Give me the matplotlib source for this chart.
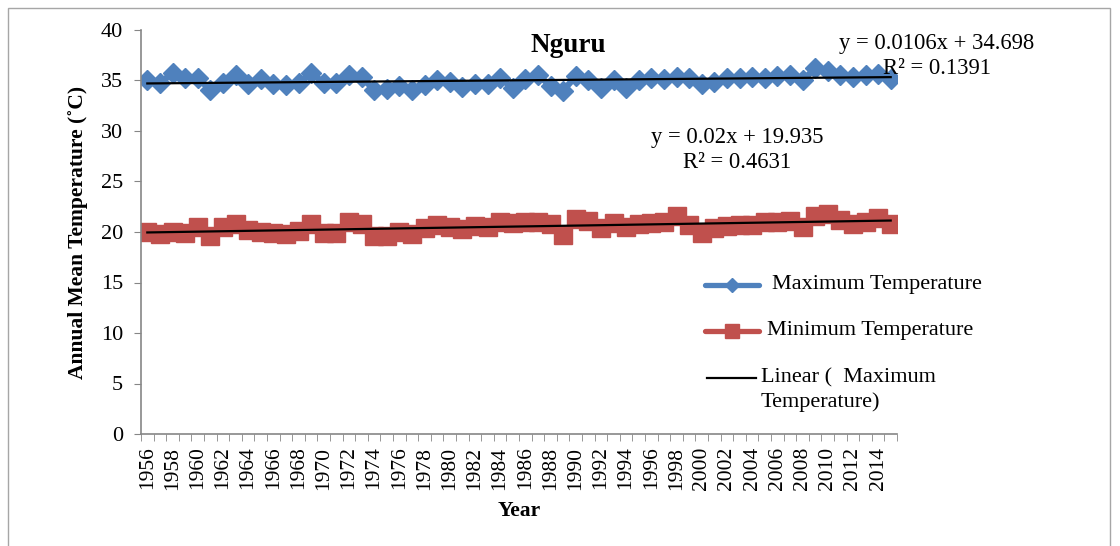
import numpy as np
import matplotlib
matplotlib.use('Agg')
import matplotlib.pyplot as plt
from matplotlib.lines import Line2D
from matplotlib.patches import Rectangle

plt.rcParams['font.family'] = ['Liberation Serif', 'DejaVu Serif']

years = list(range(1956, 2016))
max_temp = [35.0, 34.8, 35.7, 35.2, 35.2, 34.1, 34.8, 35.5, 34.7, 35.1,
            34.7, 34.6, 34.8, 35.7, 34.8, 34.8, 35.5, 35.3, 34.1, 34.2,
            34.5, 34.1, 34.6, 35.0, 34.9, 34.4, 34.7, 34.7, 35.2, 34.3,
            35.1, 35.5, 34.5, 34.0, 35.4, 35.0, 34.3, 35.0, 34.3, 35.0,
            35.2, 35.1, 35.3, 35.2, 34.7, 34.9, 35.2, 35.2, 35.3, 35.2,
            35.4, 35.5, 35.0, 36.2, 35.9, 35.5, 35.3, 35.5, 35.6, 35.1]
min_temp = [20.0, 19.8, 20.0, 19.9, 20.5, 19.6, 20.5, 20.8, 20.2, 20.0,
            19.9, 19.8, 20.1, 20.8, 19.9, 19.9, 21.0, 20.8, 19.6, 19.6,
            20.0, 19.8, 20.4, 20.7, 20.5, 20.3, 20.6, 20.5, 21.0, 20.9,
            21.0, 21.0, 20.8, 19.7, 21.3, 21.1, 20.4, 20.9, 20.5, 20.8,
            20.9, 21.0, 21.6, 20.7, 19.9, 20.4, 20.6, 20.7, 20.7, 21.0,
            21.0, 21.1, 20.5, 21.6, 21.8, 21.2, 20.8, 21.0, 21.4, 20.8]
# Excel trendline coefficients (x = 1..60)
max_fit = (0.0106, 34.698)
min_fit = (0.02, 19.935)

W, H = 1120, 546
fig = plt.figure(figsize=(W / 100, H / 100), dpi=100)
fig.patches.append(Rectangle((8 / W, -0.05), 1102 / W, 1 - 8 / H + 0.05,
                             transform=fig.transFigure, fill=False,
                             edgecolor='#a6a6a6', lw=1))

ax = fig.add_axes([141 / W, 1 - 434 / H, 756 / W, 404 / H])
x = np.arange(len(years))
blue, red = '#4f81bd', '#c0504d'
ax.plot(x, max_temp, color=blue, lw=4.5, marker='D', ms=10, zorder=2)
ax.plot(x, min_temp, color=red, lw=4.5, marker='s', ms=13, zorder=2)
k = np.arange(1, len(years) + 1)
ax.plot(x, max_fit[0] * k + max_fit[1], color='black', lw=1.6, zorder=3)
ax.plot(x, min_fit[0] * k + min_fit[1], color='black', lw=1.6, zorder=3)

ax.set_xlim(-0.5, len(years) - 0.5)
ax.set_ylim(0, 40)
ax.set_yticks(range(0, 41, 5))
ax.set_xticks(x[::2])
ax.set_xticklabels([str(y) for y in years[::2]], rotation=90)
ax.set_xticks(np.arange(-0.5, len(years)), minor=True)
ax.tick_params(axis='x', which='major', length=0, pad=9, labelsize=15.5)
ax.tick_params(axis='x', which='minor', length=5, color='#868686')
ax.tick_params(axis='y', length=5, color='#868686', labelsize=16, pad=8)
for s in ['top', 'right']:
    ax.spines[s].set_visible(False)
for s in ['left', 'bottom']:
    ax.spines[s].set_color('#868686')
    ax.spines[s].set_linewidth(1.2)

ax.set_xlabel('Year', fontsize=15.5, fontweight='bold', labelpad=8)
ax.set_ylabel('Annual Mean Temperature (˚C)', fontsize=15.5, fontweight='bold',
              labelpad=9)

fig.text(568 / W, 1 - 45 / H, 'Nguru', fontsize=19.5, fontweight='bold',
         ha='center', va='center')
eq = dict(fontsize=16.3, ha='center', va='center')
fig.text(937 / W, 1 - 44 / H, 'y = 0.0106x + 34.698', **eq)
fig.text(937 / W, 1 - 68 / H, 'R² = 0.1391', **eq)
fig.text(737 / W, 1 - 138 / H, 'y = 0.02x + 19.935', **eq)
fig.text(737 / W, 1 - 163 / H, 'R² = 0.4631', **eq)

# legend drawn by hand so the trendline entry lines up with its first line
leg = dict(fontsize=16, va='center', ha='left')
fig.add_artist(Line2D([705 / W, 759 / W], [1 - 285 / H] * 2, color=blue,
                      lw=3.8, solid_capstyle='round'))
fig.add_artist(Line2D([732 / W], [1 - 285 / H], color=blue, marker='D',
                      ms=7))
fig.text(772 / W, 1 - 285 / H, 'Maximum Temperature', **leg)
fig.add_artist(Line2D([705 / W, 759 / W], [1 - 331 / H] * 2, color=red,
                      lw=3.8, solid_capstyle='round'))
fig.add_artist(Line2D([732 / W], [1 - 331 / H], color=red, marker='s',
                      ms=10))
fig.text(767 / W, 1 - 331 / H, 'Minimum Temperature', **leg)
fig.add_artist(Line2D([707 / W, 756 / W], [1 - 378 / H] * 2, color='black',
                      lw=1.6))
fig.text(761 / W, 1 - 378 / H, 'Linear (  Maximum', **leg)
fig.text(761 / W, 1 - 402 / H, 'Temperature)', **leg)

fig.savefig('out.png', dpi=100)
